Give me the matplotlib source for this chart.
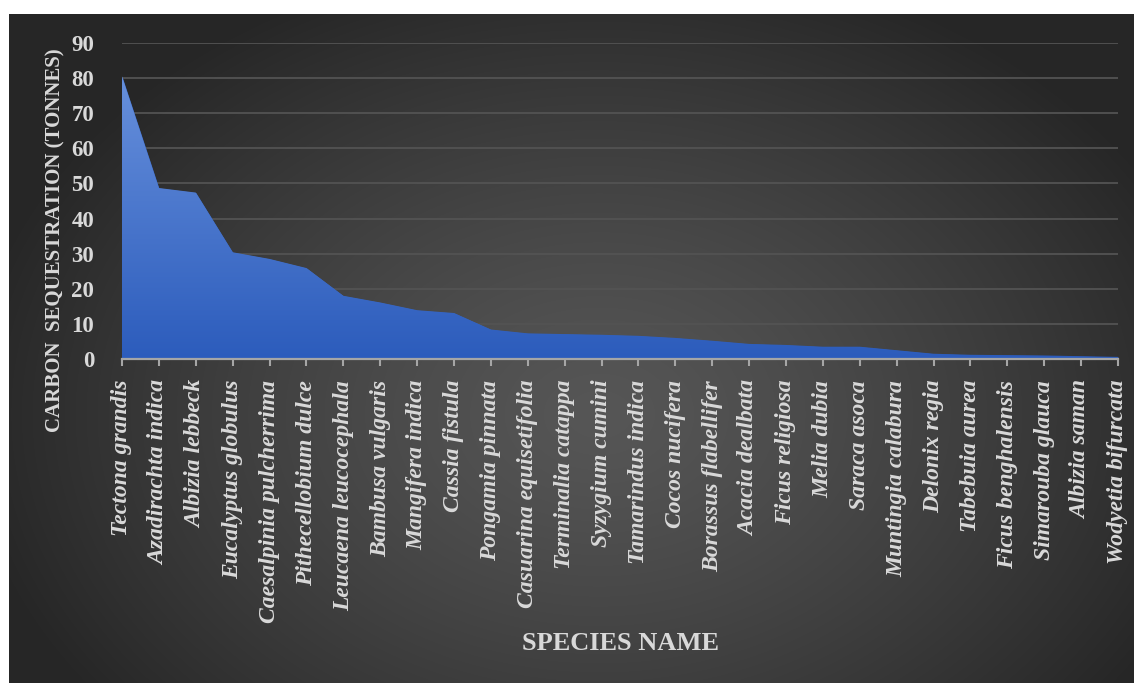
import matplotlib.pyplot as plt
import numpy as np
from matplotlib.colors import LinearSegmentedColormap

# carbon sequestered by each species (tonnes)
species = ['Tectona grandis', 'Azadirachta indica', 'Albizia lebbeck',
           'Eucalyptus globulus', 'Caesalpinia pulcherrima', 'Pithecellobium dulce',
           'Leucaena leucocephala', 'Bambusa vulgaris', 'Mangifera indica',
           'Cassia fistula', 'Pongamia pinnata', 'Casuarina equisetifolia',
           'Terminalia catappa', 'Syzygium cumini', 'Tamarindus indica',
           'Cocos nucifera', 'Borassus flabellifer', 'Acacia dealbata',
           'Ficus religiosa', 'Melia dubia', 'Saraca asoca', 'Muntingia calabura',
           'Delonix regia', 'Tabebuia aurea', 'Ficus benghalensis',
           'Simarouba glauca', 'Albizia saman', 'Wodyetia bifurcata']
carbon = [80.5, 48.7, 47.4, 30.4, 28.5, 25.9, 18.0, 16.1, 13.9, 13.1,
          8.4, 7.3, 7.1, 6.9, 6.6, 6.0, 5.2, 4.3, 4.0, 3.5,
          3.5, 2.5, 1.5, 1.2, 1.1, 1.0, 0.8, 0.6]
y_ticks = [0, 10, 20, 30, 40, 50, 60, 70, 80, 90]

W, H = 1134, 683
fig = plt.figure(figsize=(W / 100, H / 100), dpi=100, facecolor='white')

# dark panel with a soft radial highlight
panel_left, panel_top = 9, 14
bg = fig.add_axes([panel_left / W, 0, 1 - panel_left / W, (H - panel_top) / H])
bg.set_axis_off()
pw, ph = W - panel_left, H - panel_top
gx, gy = np.meshgrid(np.arange(pw), np.arange(ph))
r = np.sqrt(((gx - 590) / 640) ** 2 + ((gy - 400) / 470) ** 2)
shade = np.clip(r, 0, 1) ** 1.3
c_in, c_out = np.array([0x56, 0x56, 0x56]) / 255, np.array([0x26, 0x26, 0x26]) / 255
img = c_in[None, None, :] * (1 - shade[..., None]) + c_out[None, None, :] * shade[..., None]
bg.imshow(img, aspect='auto', extent=[0, pw, ph, 0], interpolation='bilinear')
bg.set_xlim(0, pw)
bg.set_ylim(ph, 0)

ax = fig.add_axes([122 / W, (H - 359) / H, (1118 - 122) / W, (359 - 43) / H])
ax.set_facecolor('none')

x = np.arange(len(species))
area = ax.fill_between(x, carbon, 0, color='#3a6bc9', lw=0, zorder=2)

# vertical blue gradient clipped to the area
blue = LinearSegmentedColormap.from_list('blue', ['#2c5cbc', '#6790dc'])
grad = np.linspace(0, 1, 256).reshape(-1, 1)
im = ax.imshow(grad, cmap=blue, origin='lower', aspect='auto',
               extent=[0, len(species) - 1, 0, max(carbon)], zorder=3)
im.set_clip_path(area.get_paths()[0], transform=ax.transData)

ax.set_xlim(0, len(species) - 1)
ax.set_ylim(0, 90)
ax.set_yticks(y_ticks)
ax.set_xticks(x)

for v in y_ticks[1:]:
    ax.axhline(v, color='#535353', lw=1.3, zorder=1)

for s in ['top', 'right', 'left']:
    ax.spines[s].set_visible(False)
ax.spines['bottom'].set_color('#a6a6a6')
ax.spines['bottom'].set_linewidth(1.6)
ax.spines['bottom'].set_zorder(4)

ax.tick_params(axis='y', length=0, pad=20)
ax.tick_params(axis='x', length=5, width=1.5, color='#a6a6a6', pad=10)
ax.set_yticklabels([str(v) for v in y_ticks], family='Liberation Serif',
                   fontweight='bold', fontsize=16.5, color='#d9d9d9')
ax.set_xticklabels(species, rotation=90, ha='center', va='top',
                   family='Liberation Serif', fontweight='bold', style='italic',
                   fontsize=17, color='#d9d9d9')

fig.text(55 / W, 1 - 240 / H, 'CARBON  SEQUESTRATION (TONNES)', rotation=90,
         ha='center', va='center', family='Liberation Serif', fontweight='bold',
         fontsize=15, color='#d9d9d9')
fig.text(620 / W, 1 - 644 / H, 'SPECIES NAME', ha='center', va='center',
         family='Liberation Serif', fontweight='bold', fontsize=19, color='#d9d9d9')

fig.savefig('out.png', dpi=100)
